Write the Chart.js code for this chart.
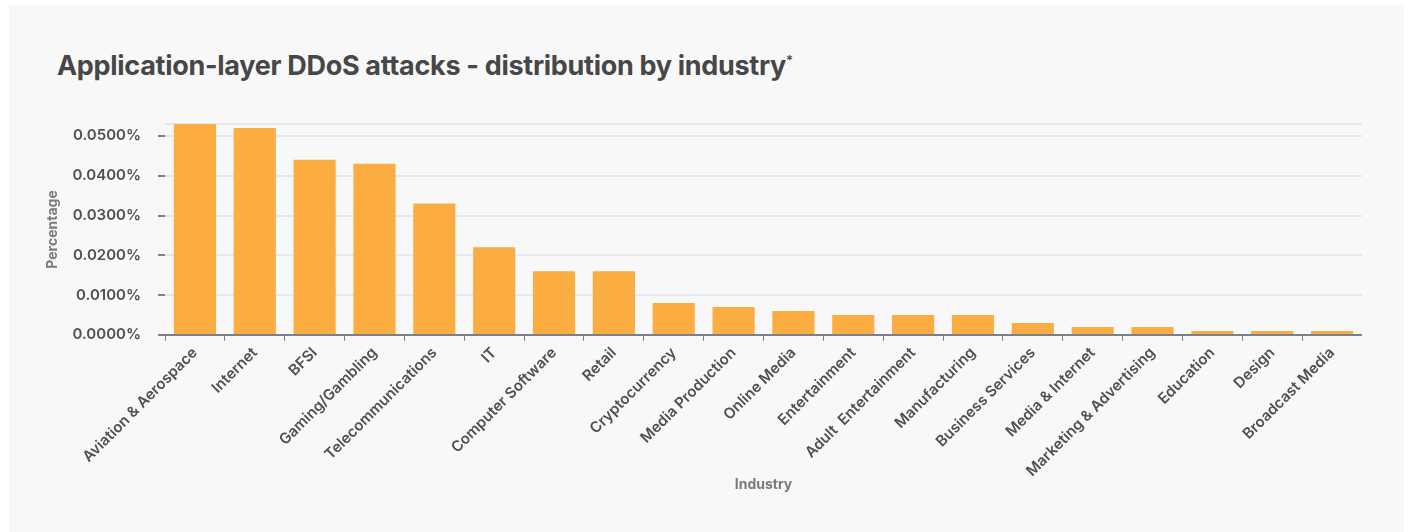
<!DOCTYPE html>
<html lang="en">
<head>
    <meta charset="UTF-8">
    <title>Application-layer DDoS attacks - distribution by industry</title>
    <script src="https://cdn.jsdelivr.net/npm/chart.js"></script>
    <style>
        html, body { margin: 0; padding: 0; background: #ffffff; }
        .card {
            position: absolute;
            left: 9px;
            top: 5px;
            width: 1395px;
            height: 527px;
            background: #f8f8f8;
        }
        .card h1 {
            position: absolute;
            left: 48px;
            top: 44px;
            margin: 0;
            font-family: Inter, "Noto Sans", sans-serif;
            font-size: 27px;
            font-weight: 700;
            color: #474747;
            letter-spacing: -0.3px;
        }
        .card h1 sup { font-size: 13px; font-weight: 600; }
        .chart-box {
            position: absolute;
            left: 34px;
            top: 93px;
            width: 1319px;
            height: 399px;
        }
    </style>
</head>
<body>
    <div class="card">
        <h1>Application-layer DDoS attacks - distribution by industry<sup>*</sup></h1>
        <div class="chart-box">
            <canvas id="industryChart"></canvas>
        </div>
    </div>

    <script>
        // industries, sorted by share of attacks
        var industries = [
            "Aviation & Aerospace", "Internet", "BFSI", "Gaming/Gambling",
            "Telecommunications", "IT", "Computer Software", "Retail",
            "Cryptocurrency", "Media Production", "Online Media", "Entertainment",
            "Adult  Entertainment", "Manufacturing", "Business Services",
            "Media & Internet", "Marketing & Advertising", "Education",
            "Design", "Broadcast Media"
        ];

        // share of application-layer DDoS traffic, in percent
        var shares = [
            0.053, 0.052, 0.044, 0.043, 0.033, 0.022, 0.016, 0.016,
            0.008, 0.007, 0.006, 0.005, 0.005, 0.005, 0.003, 0.002,
            0.002, 0.001, 0.001, 0.001
        ];

        // y axis: labelled ticks plus an unlabelled line at the top
        var yTicks = [0, 0.01, 0.02, 0.03, 0.04, 0.05];
        var yMax = 0.053;

        var fontFamily = "Inter, 'Noto Sans', sans-serif";
        var axisColor = "#7d808b";

        function createChart() {
            var ctx = document.getElementById("industryChart").getContext("2d");
            var industryChart = new Chart(ctx, {
                type: "bar",
                data: {
                    labels: industries,
                    datasets: [{
                        label: "Percentage",
                        data: shares,
                        backgroundColor: "#fbad41",
                        barPercentage: 0.88,
                        categoryPercentage: 0.8
                    }]
                },
                options: {
                    responsive: true,
                    maintainAspectRatio: false,
                    animation: false,
                    layout: { padding: 0 },
                    plugins: {
                        legend: { display: false },
                        tooltip: { enabled: false }
                    },
                    scales: {
                        x: {
                            // rotated labels may hang into the y axis area
                            afterFit: function (scale) {
                                scale.paddingLeft = 0;
                                scale.paddingRight = 0;
                            },
                            title: {
                                display: true,
                                text: "Industry",
                                color: "#7b7b7b",
                                font: { family: fontFamily, size: 14, weight: "700" },
                                padding: { top: -7, bottom: 4 }
                            },
                            grid: {
                                drawOnChartArea: false,
                                color: axisColor,
                                tickColor: axisColor,
                                tickLength: 6
                            },
                            border: { color: axisColor, width: 2 },
                            ticks: {
                                color: "#505050",
                                font: { family: fontFamily, size: 15, weight: "600" },
                                maxRotation: 45,
                                minRotation: 45,
                                autoSkip: false
                            }
                        },
                        y: {
                            min: 0,
                            max: yMax,
                            // fixed axis width; chart.js reserves padding twice
                            afterFit: function (scale) {
                                scale.width = 122;
                            },
                            afterBuildTicks: function (axis) {
                                axis.ticks = yTicks.concat([yMax]).map(function (v) {
                                    return { value: v };
                                });
                            },
                            title: {
                                display: true,
                                text: "Percentage",
                                color: "#7b7b7b",
                                font: { family: fontFamily, size: 14, weight: "700" },
                                padding: { top: 1, bottom: 0 }
                            },
                            grid: {
                                color: "#e4e8f2",
                                lineWidth: 2,
                                tickLength: 7,
                                tickColor: function (c) {
                                    return c.tick && c.tick.value >= yMax ? "rgba(0,0,0,0)" : axisColor;
                                }
                            },
                            border: { display: false },
                            ticks: {
                                autoSkip: false,
                                color: "#505050",
                                font: { family: fontFamily, size: 15, weight: "600" },
                                padding: 17,
                                callback: function (v) {
                                    if (v >= yMax) return "";
                                    return v.toFixed(4) + "%";
                                }
                            }
                        }
                    }
                }
            });
        }

        // measure labels with the real font, not the fallback
        Promise.all([
            document.fonts.load("600 15px Inter"),
            document.fonts.load("700 14px Inter")
        ]).then(createChart, createChart);
    </script>
</body>
</html>
